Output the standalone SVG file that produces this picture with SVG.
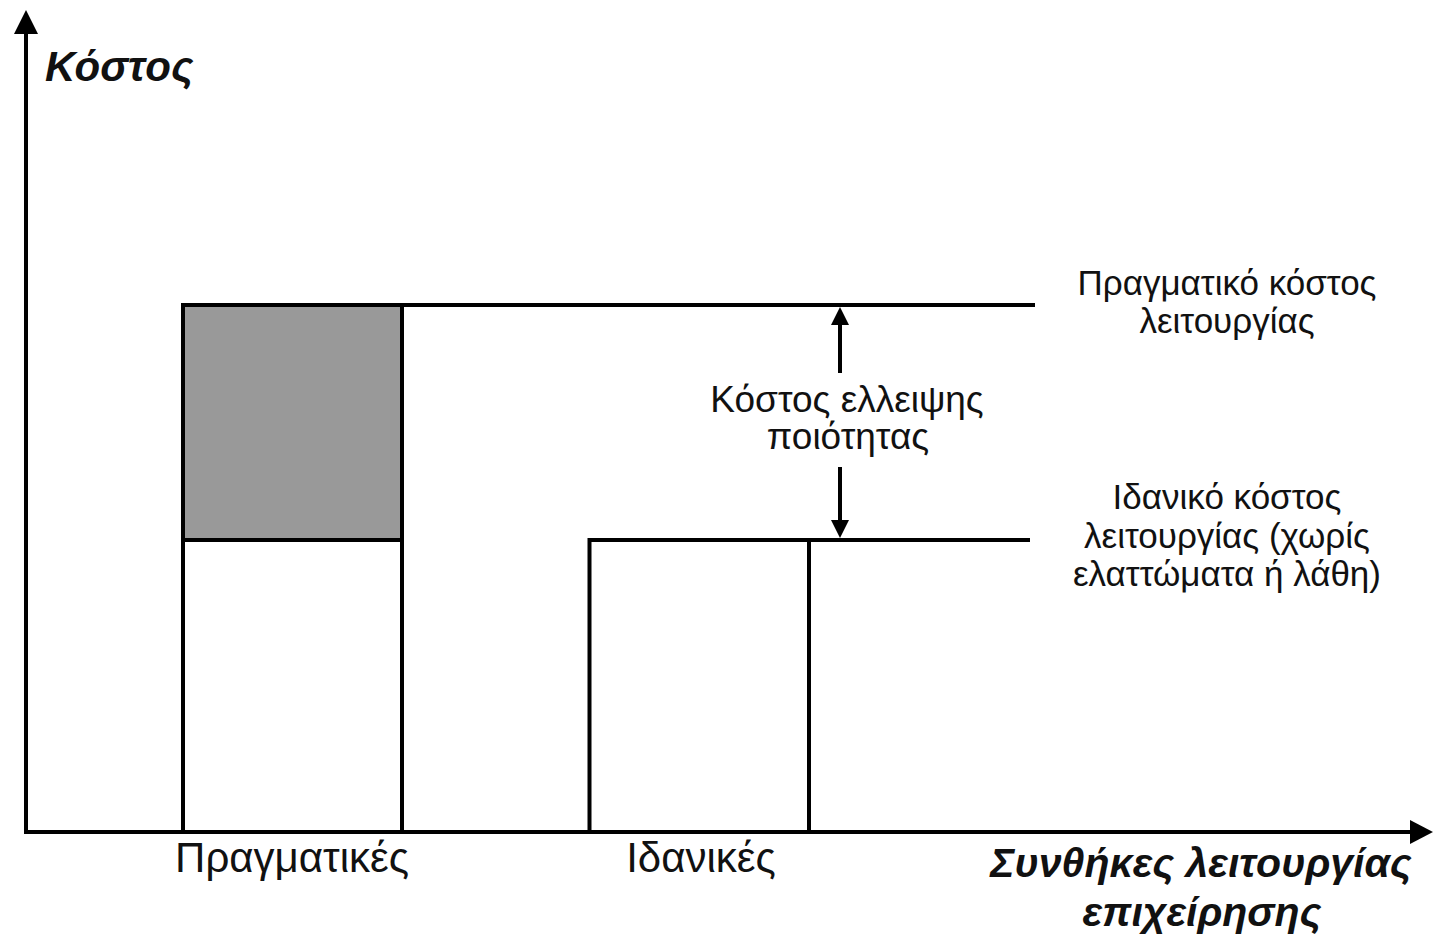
<svg xmlns="http://www.w3.org/2000/svg" width="1433" height="936" viewBox="0 0 1433 936">
<style>
.ln{stroke:#000;stroke-width:4;fill:none}
.t{font-family:"Liberation Sans",Arial,sans-serif;fill:#111;text-anchor:middle}
.s{font-size:35px}
.c{font-size:37px}
.m{font-size:42px}
.bi{font-family:"Liberation Sans",Arial,sans-serif;font-weight:bold;font-style:italic;fill:#111;font-size:42px}
.bs{font-size:41px}
</style>
<rect width="1433" height="936" fill="#fff"/>
<g id="axes">
<line class="ln" x1="26" y1="832" x2="26" y2="32"/>
<polygon points="26,10 14,34 38,34" fill="#000"/>
<line class="ln" x1="24" y1="832" x2="1412" y2="832"/>
<polygon points="1433,832 1410,820 1410,844" fill="#000"/>
</g>
<g id="bar-real">
<rect x="183" y="305" width="219" height="235" fill="#999"/>
<path class="ln" d="M183,832 V305 H402 V832 M183,540 H402"/>
</g>
<g id="bar-ideal">
<path class="ln" d="M589.5,832 V540 H809 V832"/>
</g>
<g id="connectors">
<line class="ln" x1="402" y1="305" x2="1035" y2="305"/>
<line class="ln" x1="809" y1="540" x2="1030" y2="540"/>
<line class="ln" x1="840" y1="322" x2="840" y2="373"/>
<polygon points="840,307 831,325 849,325" fill="#000"/>
<line class="ln" x1="840" y1="467" x2="840" y2="522"/>
<polygon points="840,538 831,520 849,520" fill="#000"/>
</g>
<g id="labels">
<text class="bi" x="45" y="81">Κόστος</text>
<text class="t s" x="1227" y="295">Πραγματικό κόστος</text>
<text class="t s" x="1227" y="333">λειτουργίας</text>
<text class="t c" x="847" y="412">Κόστος ελλειψης</text>
<text class="t c" x="848" y="449">ποιότητας</text>
<text class="t s" x="1227" y="509">Ιδανικό κόστος</text>
<text class="t s" x="1227" y="548">λειτουργίας (χωρίς</text>
<text class="t s" x="1227" y="586">ελαττώματα ή λάθη)</text>
<text class="t m" x="292" y="872">Πραγματικές</text>
<text class="t m" x="701" y="872">Ιδανικές</text>
<text class="bi bs" x="1201" y="877" text-anchor="middle">Συνθήκες λειτουργίας</text>
<text class="bi bs" x="1202" y="926" text-anchor="middle">επιχείρησης</text>
</g>
</svg>
